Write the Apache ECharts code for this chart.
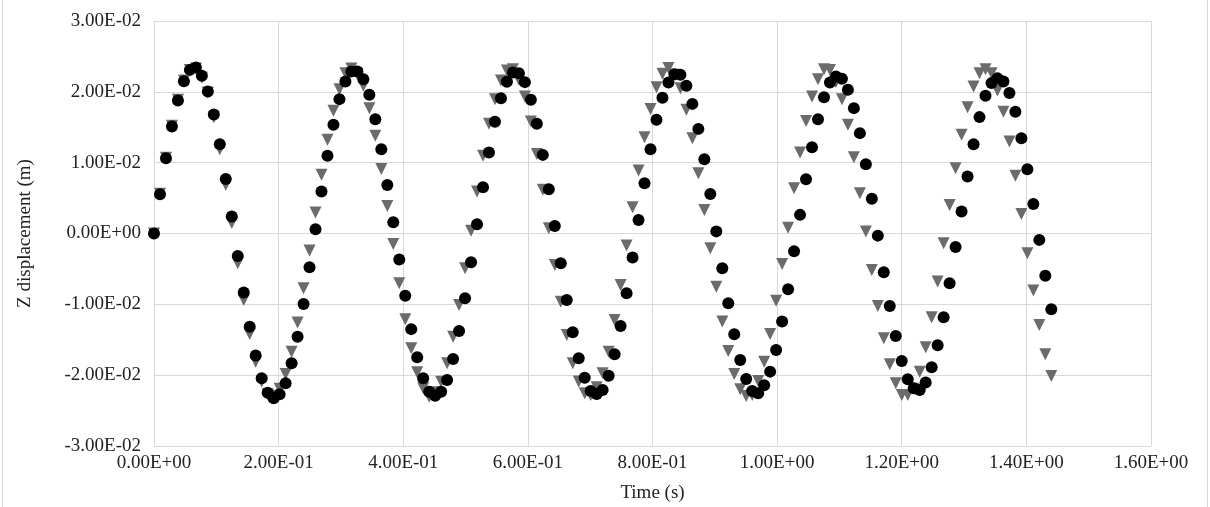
<!DOCTYPE html>
<html>
<head>
<meta charset="utf-8">
<script src="https://cdn.jsdelivr.net/npm/echarts@6/dist/echarts.min.js"></script>
<style>
    html, body { margin: 0; padding: 0; background: #fff; }
    #chart { width: 1210px; height: 507px; }
</style>
</head>
<body>
<div id="chart"></div>
<script>
// time samples (s)
const times = [
    0, 0.0096, 0.0192, 0.0288, 0.0384, 0.048, 0.0576, 0.0672, 0.0768, 0.0864,
    0.096, 0.1056, 0.1152, 0.1248, 0.1344, 0.144, 0.1536, 0.1632, 0.1728, 0.1824,
    0.192, 0.2016, 0.2112, 0.2208, 0.2304, 0.24, 0.2496, 0.2592, 0.2688, 0.2784,
    0.288, 0.2976, 0.3072, 0.3168, 0.3264, 0.336, 0.3456, 0.3552, 0.3648, 0.3744,
    0.384, 0.3936, 0.4032, 0.4128, 0.4224, 0.432, 0.4416, 0.4512, 0.4608, 0.4704,
    0.48, 0.4896, 0.4992, 0.5088, 0.5184, 0.528, 0.5376, 0.5472, 0.5568, 0.5664,
    0.576, 0.5856, 0.5952, 0.6048, 0.6144, 0.624, 0.6336, 0.6432, 0.6528, 0.6624,
    0.672, 0.6816, 0.6912, 0.7008, 0.7104, 0.72, 0.7296, 0.7392, 0.7488, 0.7584,
    0.768, 0.7776, 0.7872, 0.7968, 0.8064, 0.816, 0.8256, 0.8352, 0.8448, 0.8544,
    0.864, 0.8736, 0.8832, 0.8928, 0.9024, 0.912, 0.9216, 0.9312, 0.9408, 0.9504,
    0.96, 0.9696, 0.9792, 0.9888, 0.9984, 1.008, 1.0176, 1.0272, 1.0368, 1.0464,
    1.056, 1.0656, 1.0752, 1.0848, 1.0944, 1.104, 1.1136, 1.1232, 1.1328, 1.1424,
    1.152, 1.1616, 1.1712, 1.1808, 1.1904, 1.2, 1.2096, 1.2192, 1.2288, 1.2384,
    1.248, 1.2576, 1.2672, 1.2768, 1.2864, 1.296, 1.3056, 1.3152, 1.3248, 1.3344,
    1.344, 1.3536, 1.3632, 1.3728, 1.3824, 1.392, 1.4016, 1.4112, 1.4208, 1.4304,
    1.44
]

// black circles (m)
const dispCircle = [
    0, 0.00555, 0.01064, 0.0151, 0.01877, 0.0215, 0.0231, 0.02343, 0.02226, 0.02004,
    0.01679, 0.01261, 0.00771, 0.00239, -0.00316, -0.00834, -0.01315, -0.01724, -0.02044, -0.02247,
    -0.02326, -0.0227, -0.02114, -0.01832, -0.01456, -0.00994, -0.00476, 0.0006, 0.00592, 0.01096,
    0.01534, 0.01897, 0.02146, 0.02287, 0.02287, 0.02179, 0.01958, 0.01614, 0.01191, 0.00686,
    0.0016, -0.00368, -0.0088, -0.0135, -0.01747, -0.02044, -0.02233, -0.0229, -0.02233, -0.02068,
    -0.01771, -0.01376, -0.00914, -0.00405, 0.00131, 0.00654, 0.01143, 0.01576, 0.01911, 0.02141,
    0.02273, 0.02264, 0.02137, 0.01887, 0.01548, 0.0111, 0.00626, 0.00107, -0.0042, -0.00938,
    -0.01394, -0.01761, -0.02035, -0.02223, -0.02266, -0.02209, -0.02007, -0.01705, -0.01305, -0.00843,
    -0.0034, 0.00192, 0.0071, 0.01191, 0.01605, 0.01915, 0.02131, 0.02247, 0.0224, 0.02085,
    0.0183, 0.01477, 0.01049, 0.00559, 0.0003, -0.0049, -0.00985, -0.01422, -0.01785, -0.02054,
    -0.02223, -0.02256, -0.02143, -0.0195, -0.01644, -0.01244, -0.00787, -0.0025, 0.00263, 0.00767,
    0.01219, 0.01614, 0.01925, 0.02131, 0.02216, 0.02184, 0.02028, 0.0177, 0.01417, 0.00979,
    0.00489, -0.0003, -0.00547, -0.01023, -0.01446, -0.018, -0.02058, -0.02185, -0.02209, -0.02103,
    -0.01888, -0.01578, -0.01182, -0.00702, -0.0019, 0.00309, 0.00804, 0.01261, 0.01643, 0.01944,
    0.02123, 0.02193, 0.02146, 0.01982, 0.01718, 0.01346, 0.00908, 0.00418, -0.0009, -0.00595,
    -0.01069
]

// grey triangles (m)
const dispTriangle = [
    0, 0.0056, 0.0107, 0.0152, 0.0189, 0.0216, 0.0231, 0.0233, 0.022, 0.0199,
    0.0164, 0.0119, 0.0069, 0.0015, -0.0042, -0.0094, -0.01418, -0.0181, -0.0209, -0.0227,
    -0.0229, -0.0219, -0.01983, -0.01668, -0.01258, -0.00773, -0.00241, 0.00296, 0.00828, 0.01322,
    0.01732, 0.02038, 0.02264, 0.0233, 0.0225, 0.02085, 0.0177, 0.01379, 0.00912, 0.0039,
    -0.00147, -0.00702, -0.0121, -0.0162, -0.0196, -0.02185, -0.02303, -0.0224, -0.02092, -0.01832,
    -0.01456, -0.01008, -0.0049, 0.0004, 0.00592, 0.01096, 0.01548, 0.01897, 0.0216, 0.02301,
    0.0232, 0.0217, 0.01934, 0.0158, 0.01124, 0.00616, 0.00075, -0.00443, -0.00962, -0.01432,
    -0.01832, -0.0209, -0.02256, -0.0228, -0.0217, -0.01973, -0.01668, -0.0122, -0.00726, -0.0017,
    0.00371, 0.00888, 0.0136, 0.01756, 0.02066, 0.02254, 0.02335, 0.0224, 0.02052, 0.01746,
    0.01346, 0.00852, 0.00333, -0.00208, -0.0075, -0.01244, -0.01658, -0.01983, -0.022, -0.02294,
    -0.0228, -0.02082, -0.01809, -0.01418, -0.00948, -0.0043, 0.0008, 0.0064, 0.01143, 0.0159,
    0.01934, 0.02179, 0.0232, 0.0231, 0.0214, 0.01897, 0.01534, 0.01077, 0.00569, 0.00027,
    -0.00514, -0.01023, -0.01479, -0.01846, -0.02114, -0.0228, -0.0228, -0.0219, -0.0195, -0.01606,
    -0.01182, -0.00679, -0.00137, 0.00404, 0.00922, 0.01393, 0.01784, 0.02075, 0.02264, 0.0232,
    0.02264, 0.02018, 0.01718, 0.01298, 0.00814, 0.00277, -0.00278, -0.00806, -0.01291, -0.01705,
    -0.02011
]

const fontFamily = '"Liberation Serif", "Times New Roman", serif'
const gridColor = '#d9d9d9'

// Excel style 0.00E+00
const sciLabel = (v) => {
    let s = Number(v).toExponential(2)
    let parts = s.split('e')
    let exp = parseInt(parts[1], 10)
    let sign = exp < 0 ? '-' : '+'
    let digits = String(Math.abs(exp)).padStart(2, '0')
    return parts[0] + 'E' + sign + digits
}

const chart = echarts.init(document.getElementById('chart'))
const option = {
    animation: false,
    backgroundColor: '#fff',
    textStyle: { fontFamily: fontFamily },
    graphic: [
        {
            type: 'rect',
            shape: { x: 2.5, y: -2, width: 1205, height: 512 },
            style: { fill: 'none', stroke: gridColor, lineWidth: 1 },
            silent: true
        }
    ],
    grid: {
        left: 154,
        right: 59,
        top: 21,
        bottom: 61,
        containLabel: false,
        outerBoundsMode: 'none'
    },
    xAxis: {
        type: 'value',
        min: 0,
        max: 1.6,
        interval: 0.2,
        name: 'Time (s)',
        nameLocation: 'middle',
        nameGap: 38,
        nameTextStyle: { color: '#222', fontSize: 19, fontFamily: fontFamily },
        axisLine: { show: true, lineStyle: { color: gridColor } },
        axisTick: { show: false },
        axisLabel: {
            color: '#222',
            fontSize: 19,
            fontFamily: fontFamily,
            margin: 8,
            formatter: sciLabel
        },
        splitLine: { show: true, lineStyle: { color: gridColor, width: 1 } }
    },
    yAxis: {
        type: 'value',
        min: -0.03,
        max: 0.03,
        interval: 0.01,
        name: 'Z displacement (m)',
        nameLocation: 'middle',
        nameGap: 119,
        nameRotate: 90,
        nameTextStyle: { color: '#222', fontSize: 19, fontFamily: fontFamily },
        axisLine: { show: true, lineStyle: { color: gridColor } },
        axisTick: { show: false },
        axisLabel: {
            color: '#222',
            fontSize: 19,
            fontFamily: fontFamily,
            margin: 13,
            formatter: sciLabel
        },
        splitLine: { show: true, lineStyle: { color: gridColor, width: 1 } }
    },
    series: [
        {
            type: 'scatter',
            name: 'triangle',
            symbol: 'triangle',
            symbolRotate: 180,
            symbolSize: 12,
            itemStyle: { color: '#6b6b6b', opacity: 1 },
            data: times.map((t, i) => [t, dispTriangle[i]])
        },
        {
            type: 'scatter',
            name: 'circle',
            symbol: 'circle',
            symbolSize: 12,
            itemStyle: { color: '#000', opacity: 1 },
            data: times.map((t, i) => [t, dispCircle[i]])
        }
    ]
}
chart.setOption(option)
</script>
</body>
</html>
